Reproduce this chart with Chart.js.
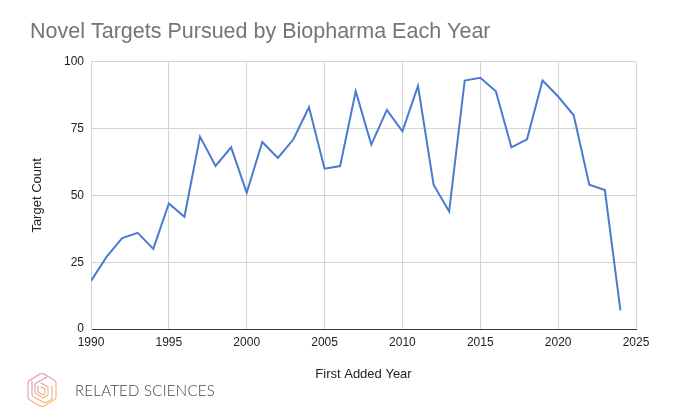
<!DOCTYPE html>
<html>
<head>
<meta charset="utf-8">
<script src="https://cdn.jsdelivr.net/npm/chart.js@4.4.1/dist/chart.umd.min.js"></script>
<style>
  html, body { margin: 0; padding: 0; background: #fff; }
  #wrap { position: relative; width: 680px; height: 418px; }
  #novel-targets { position: absolute; left: 0; top: 0; }
  #logo { position: absolute; left: 26px; top: 372px; height: 36px; display: flex; align-items: center; }
  #logo span {
    margin-left: 16px;
    font-family: "Lato", "Liberation Sans", sans-serif;
    font-weight: 300;
    font-size: 15px;
    letter-spacing: 0.25px;
    color: #444;
  }
</style>
</head>
<body>
<div id="wrap">
  <canvas id="novel-targets" width="680" height="418"></canvas>
  <div id="logo">
    <svg width="33" height="36" viewBox="0 0 33 36">
      <defs>
        <linearGradient id="rs" x1="0" y1="0" x2="0.6" y2="1">
          <stop offset="0" stop-color="#d98ab8"/>
          <stop offset="0.5" stop-color="#e9a49a"/>
          <stop offset="1" stop-color="#f2b67a"/>
        </linearGradient>
      </defs>
      <g fill="none" stroke="url(#rs)" stroke-width="1.1" stroke-linejoin="round" stroke-linecap="round">
        <path d="M14 2 Q16 1 18 2 L28 8 Q30 9 30 11 L30 25 Q30 27 28 28 L18 34 Q16 35 14 34 L4 28 Q2 27 2 25 L2 11 Q2 9 4 8 Z"/>
        <path d="M6 9 L6 22 Q6 24 8 25 L17 30 Q19 31 21 30 L26 27 L26 14"/>
        <path d="M21 5 L10 11 Q9 12 9 13 L9 21 L17 26 L22 23 L22 15 L15 11"/>
        <path d="M12 14 L12 20 L17 23 L19 22 L19 17 L15 15"/>
      </g>
    </svg>
    <span>RELATED SCIENCES</span>
  </div>
</div>
<script>
const years = [1990, 1991, 1992, 1993, 1994, 1995, 1996, 1997, 1998, 1999,
               2000, 2001, 2002, 2003, 2004, 2005, 2006, 2007, 2008, 2009,
               2010, 2011, 2012, 2013, 2014, 2015, 2016, 2017, 2018, 2019,
               2020, 2021, 2022, 2023, 2024];
const targetCounts = [18, 27, 34, 36, 30, 47, 42, 72, 61, 68,
                      51, 70, 64, 71, 83, 60, 61, 89, 69, 82,
                      74, 91, 54, 44, 93, 94, 89, 68, 71, 93,
                      87, 80, 54, 52, 7];
const yearTicks = [1990, 1995, 2000, 2005, 2010, 2015, 2020, 2025];
const countTicks = [0, 25, 50, 75, 100];

const chartTitle = "Novel Targets Pursued by Biopharma Each Year";
const xTitle = "First Added Year";
const yTitle = "Target Count";

const fontFamily = "'Liberation Sans', Arial, sans-serif";
const gridColor = "#d4d4d4";

const points = years.map((y, i) => ({ x: y, y: targetCounts[i] }));

const ctx = document.getElementById("novel-targets").getContext("2d");

new Chart(ctx, {
    type: "line",
    data: {
        datasets: [
            {
                label: yTitle,
                data: points,
                borderColor: "#4a7bd0",
                backgroundColor: "#4a7bd0",
                borderWidth: 2,
                tension: 0,
                fill: false,
                pointRadius: 0
            }
        ]
    },
    options: {
        responsive: false,
        animation: false,
        layout: {
            padding: { left: 30, right: 44, top: 0, bottom: 28 }
        },
        plugins: {
            legend: { display: false },
            tooltip: { enabled: false },
            title: {
                display: true,
                text: chartTitle,
                align: "start",
                color: "#757575",
                font: { family: fontFamily, size: 21.5, weight: "normal" },
                padding: { top: 19, bottom: 17 }
            }
        },
        scales: {
            x: {
                type: "linear",
                min: yearTicks[0],
                max: yearTicks[yearTicks.length - 1],
                afterBuildTicks: (scale) => {
                    scale.ticks = yearTicks.map(v => ({ value: v }));
                },
                afterFit: (scale) => { scale.height = 61; },
                grid: { color: gridColor, drawTicks: false },
                border: { color: "#333", width: 1 },
                ticks: {
                    padding: 6,
                    color: "#222",
                    maxRotation: 0,
                    font: { family: fontFamily, size: 12 },
                    callback: (v) => String(v)
                },
                title: {
                    display: true,
                    text: xTitle,
                    color: "#222",
                    font: { family: fontFamily, size: 13 },
                    padding: { top: 0, bottom: 8 }
                }
            },
            y: {
                min: countTicks[0],
                max: countTicks[countTicks.length - 1],
                afterBuildTicks: (scale) => {
                    scale.ticks = countTicks.map(v => ({ value: v }));
                },
                afterFit: (scale) => { scale.width = 61; },
                grid: { color: gridColor, drawTicks: false },
                border: { color: gridColor },
                ticks: {
                    padding: 7,
                    color: "#222",
                    font: { family: fontFamily, size: 12 }
                },
                title: {
                    display: true,
                    text: yTitle,
                    color: "#222",
                    font: { family: fontFamily, size: 13 },
                    padding: { top: 0, bottom: 0 }
                }
            }
        }
    }
});
</script>
</body>
</html>
